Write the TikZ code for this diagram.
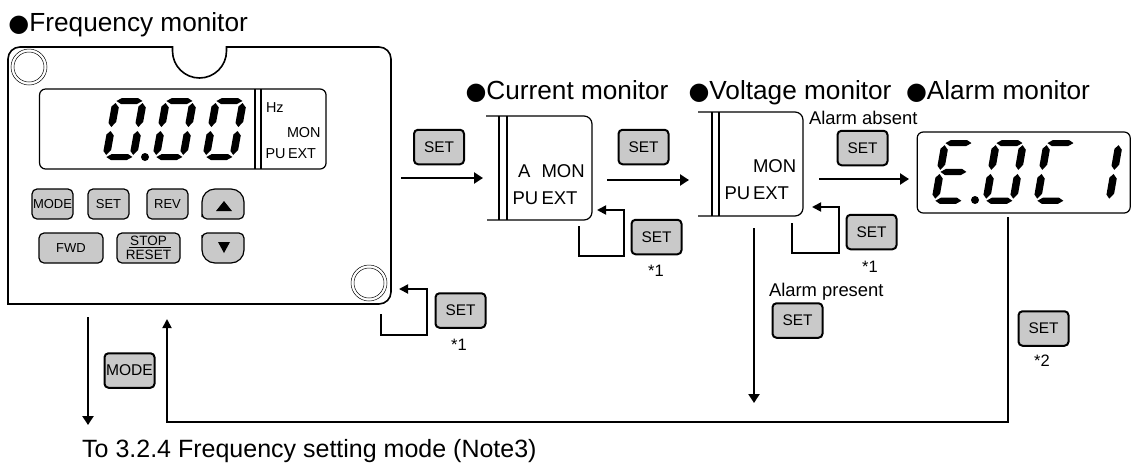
\documentclass[tikz,border=0pt]{standalone}
\usepackage{fontspec}
\setmainfont{Liberation Sans}
\newfontfamily\bulletfont{DejaVu Sans}
\usetikzlibrary{arrows.meta}
\newcommand{\fs}[1]{\fontsize{#1}{#1}\selectfont}
\newcommand{\blt}{{\bulletfont\fontsize{24}{24}\selectfont ●}}
\tikzset{
  heading/.style={anchor=base west,inner sep=0pt,outer sep=0pt,font=\fs{26.2}},
  small/.style={anchor=base west,inner sep=0pt,outer sep=0pt,font=\fs{18.4}},
  lcd/.style={anchor=base west,inner sep=0pt,outer sep=0pt,font=\fs{14.4}},
  lcdbig/.style={anchor=base west,inner sep=0pt,outer sep=0pt,font=\fs{18.5}},
  note/.style={inner sep=0pt,outer sep=0pt,font=\fs{16.5}},
  keybig/.style={draw=black,line width=2pt,fill=black!21,rounded corners=4pt,minimum width=50pt,minimum height=34.5pt,inner sep=0pt,outer sep=0pt,font=\fs{15.4}},
  keysmall/.style={draw=black,line width=1.2pt,fill=black!21,rounded corners=5pt,minimum height=30pt,inner sep=0pt,outer sep=0pt,font=\fs{13}},
  keyshape/.style={draw=black,line width=1.2pt,fill=black!21},
  thickarrow/.style={draw=black,line width=2.8pt,-{Triangle[length=9pt,width=11pt]}},
  looparrow/.style={draw=black,line width=1.8pt,-{Triangle[length=9pt,width=9pt]}},
  outline/.style={draw=black,line width=1.6pt},
  boxline/.style={draw=black,line width=1.2pt},
  screw/.style={draw=black,line width=0.5pt},
  display/.style={draw=black,line width=1.2pt,rounded corners=6pt,inner sep=0pt,outer sep=0pt},
}
% seven segment digit: origin top-left, arguments x, y, yscale, list of segments
\def\segw{34}
\newcommand{\segH}[1]{\fill (4,#1+3)--(9,#1)--(\segw-9,#1)--(\segw-4,#1+3)--(\segw-9,#1+6)--(9,#1+6)--cycle;}
\newcommand{\segV}[2]{\fill (#1+3.5,#2)--(#1+7.5,#2+4.5)--(#1+7.5,#2+19)--(#1+3.5,#2+24)--(#1,#2+20)--(#1,#2+3.5)--cycle;}
\newcommand{\sega}{\segH{0}}
\newcommand{\segb}{\segV{\segw-7}{5}}
\newcommand{\segc}{\segV{\segw-7}{33}}
\newcommand{\segd}{\segH{56}}
\newcommand{\sege}{\segV{0}{33}}
\newcommand{\segf}{\segV{0}{5}}
\newcommand{\segg}{\segH{28}}
\newcommand{\sevenseg}[4]{\begin{scope}[shift={(#1,#2)},yscale=#3,xslant=0.18]#4\end{scope}}
\begin{document}
\begin{tikzpicture}[x=1pt,y=-1pt]
\useasboundingbox (0,0) rectangle (1131,464);

% ---- frequency panel
\node[heading] (hfreq) at (8.5,31) {\blt Frequency monitor};
\draw[outline] (8,304) [rounded corners=12pt] -- (8,47) -- (173,47) [sharp corners] -- (172.5,47) -- (172.5,51)
  arc[start angle=180,end angle=360,radius=27pt] -- (226.5,47) [rounded corners=12pt] -- (391,47) -- (391,304) [sharp corners] -- cycle;
\draw[screw] (29,67) circle[radius=18pt];
\draw[screw] (29,67) circle[radius=15pt];
\draw[screw] (369,283) circle[radius=18pt];
\draw[screw] (369,283) circle[radius=15pt];

\node[display,minimum width=286.5pt,minimum height=80pt] (freqlcd) at (182.8,129) {};
\draw[boxline,line width=1.6pt] (255,89) -- (255,169);
\draw[boxline,line width=1.6pt] (261,89) -- (261,169);
\sevenseg{113}{98}{1}{\sega\segb\segc\segd\sege\segf}
\sevenseg{163}{98}{1}{\sega\segb\segc\segd\sege\segf}
\sevenseg{213}{98}{1}{\sega\segb\segc\segd\sege\segf}
\fill (145,157) circle[radius=4pt];
\node[lcd] (fhz) at (266,112) {Hz};
\node[lcd] (fmon) at (287,137) {MON};
\node[lcd] (fpu) at (265.5,158) {PU};
\node[lcd] (fext) at (288,158) {EXT};

\node[keysmall,minimum width=41pt] (kmode) at (52.5,204) {MODE};
\node[keysmall,minimum width=41pt] (kset) at (108.5,204) {SET};
\node[keysmall,minimum width=41pt] (krev) at (167.5,204) {REV};
\node[keysmall,minimum width=64pt] (kfwd) at (71,248) {FWD};
\node[keysmall,minimum width=63pt,align=center,font=\fs{13.5}] (kstop) at (148.5,248) {};
\node[inner sep=0pt,font=\fs{13.5}] (kstoptxt) at (148.5,241) {STOP};
\node[inner sep=0pt,font=\fs{13.5}] (kresettxt) at (148.5,255) {RESET};
\draw[line width=0.7pt] (129,247.5) -- (171,247.5);
\draw[keyshape] (202,212) [rounded corners=13pt] -- (202,189) -- (244,189) [rounded corners=5pt] -- (244,219) -- (202,219) -- cycle;
\draw[keyshape] (202,240) [rounded corners=5pt] -- (202,233) -- (244,233) [rounded corners=13pt] -- (244,263) -- (202,263) [rounded corners=5pt] -- cycle;
\fill (216,211) -- (224,201) -- (232,211) -- cycle;
\fill (218,242) -- (224,253) -- (230,242) -- cycle;

% ---- current monitor
\node[heading] (hcur) at (465.5,99) {\blt Current monitor};
\node[keybig] (s1) at (439,147) {SET};
\coordinate (a1s) at (401,178); \coordinate (a1e) at (483,178);
\draw[thickarrow] (a1s) -- (a1e);
\draw[boxline] (486,116) [rounded corners=8pt] -- (592,116) -- (592,220) -- (487,220);
\draw[boxline] (499,116) -- (499,220);
\draw[boxline] (507,116) -- (507,220);
\node[lcdbig] (ca) at (518,177) {A};
\node[lcdbig] (cmon) at (541.5,177) {MON};
\node[lcdbig] (cpu) at (512.5,204) {PU};
\node[lcdbig] (cext) at (541.5,204) {EXT};
\node[keybig] (s2) at (643.5,147) {SET};
\coordinate (a2s) at (607,180); \coordinate (a2e) at (689,180);
\draw[thickarrow] (a2s) -- (a2e);
\node[keybig] (s2l) at (656.5,237) {SET};
\node[note] (n2l) at (656,271) {*1};
\coordinate (l2a) at (579,226); \coordinate (l2b) at (579,256); \coordinate (l2c) at (624,256); \coordinate (l2d) at (624,210); \coordinate (l2e) at (597,210);
\draw[looparrow] (l2a) -- (l2b) -- (l2c) -- (l2d) -- (l2e);

% ---- voltage monitor
\node[heading] (hvol) at (688.5,99) {\blt Voltage monitor};
\draw[boxline] (698,112) [rounded corners=8pt] -- (803,112) -- (803,216) -- (698,216);
\draw[boxline] (712,112) -- (712,216);
\draw[boxline] (719,112) -- (719,216);
\node[lcdbig] (vmon) at (753,172.5) {MON};
\node[lcdbig] (vpu) at (724.5,199.5) {PU};
\node[lcdbig] (vext) at (753,199.5) {EXT};
\node[small] (absent) at (809,124) {Alarm absent};
\node[keybig] (s3) at (862.5,148) {SET};
\coordinate (a3s) at (819,179); \coordinate (a3e) at (909,179);
\draw[thickarrow] (a3s) -- (a3e);
\node[keybig] (s3l) at (871.5,232) {SET};
\node[note] (n3l) at (870,267) {*1};
\coordinate (l3a) at (792,223); \coordinate (l3b) at (792,253); \coordinate (l3c) at (839,253); \coordinate (l3d) at (839,207); \coordinate (l3e) at (812,207);
\draw[looparrow] (l3a) -- (l3b) -- (l3c) -- (l3d) -- (l3e);
\node[small] (present) at (769,296) {Alarm present};
\node[keybig] (s4) at (797.5,320.5) {SET};
\coordinate (a4s) at (754,228); \coordinate (a4e) at (754,403);
\draw[thickarrow] (a4s) -- (a4e);

% ---- alarm monitor
\node[heading] (halm) at (906,99) {\blt Alarm monitor};
\node[display,minimum width=213pt,minimum height=81pt] (almlcd) at (1023.7,172.5) {};
\sevenseg{942}{140}{1.03}{\sega\segd\sege\segf\segg}
\sevenseg{993}{140}{1.03}{\sega\segb\segc\segd\sege\segf}
\sevenseg{1044}{140}{1.03}{\sega\segd\sege\segf}
\sevenseg{1089}{140}{1.03}{\segb\segc}
\fill (975,200) circle[radius=4pt];
\node[keybig] (s5) at (1043.5,328.5) {SET};
\node[note] (n5) at (1042,361) {*2};

% ---- bottom connectors
\node[keybig] (s6) at (460.5,310.5) {SET};
\node[note] (n6) at (459,345) {*1};
\coordinate (l1a) at (381,314); \coordinate (l1b) at (381,335); \coordinate (l1c) at (427,335); \coordinate (l1d) at (427,289); \coordinate (l1e) at (399,289);
\draw[looparrow] (l1a) -- (l1b) -- (l1c) -- (l1d) -- (l1e);
\coordinate (r1) at (1008,217); \coordinate (r2) at (1008,422); \coordinate (r3) at (167,422); \coordinate (r4) at (167,319);
\draw[looparrow] (r1) -- (r2) -- (r3) -- (r4);
\coordinate (m1) at (88,317); \coordinate (m2) at (88,425);
\draw[thickarrow] (m1) -- (m2);
\node[keybig,font=\fs{15.6}] (s7) at (129.5,370.5) {MODE};
\node[anchor=base west,inner sep=0pt,font=\fs{25}] (tofreq) at (82,457) {To 3.2.4 Frequency setting mode (Note3)};
\end{tikzpicture}
\end{document}
